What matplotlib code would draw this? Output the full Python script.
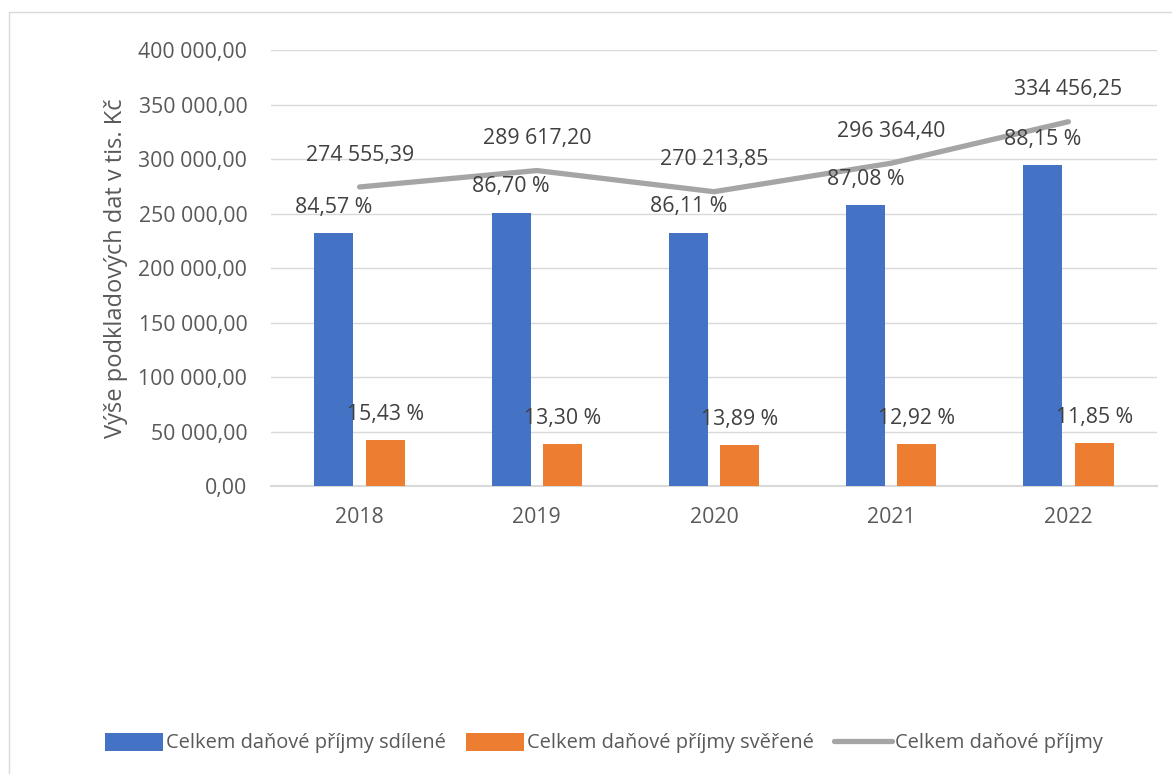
import matplotlib.pyplot as plt
import numpy as np
from matplotlib.patches import Rectangle

years = ['2018', '2019', '2020', '2021', '2022']
sdilene = [232191, 251098, 232681, 258074, 294823]
sverene = [42364, 38519, 37533, 38290, 39633]
celkem = [274555.39, 289617.20, 270213.85, 296364.40, 334456.25]
pct_sdilene = [84.57, 86.70, 86.11, 87.08, 88.15]
pct_sverene = [15.43, 13.30, 13.89, 12.92, 11.85]

plt.rcParams['font.family'] = ['Open Sans', 'DejaVu Sans']


def cz(v, dec=2):
    s = '{:,.{}f}'.format(v, dec)
    return s.replace(',', ' ').replace('.', ',')


fig = plt.figure(figsize=(11.72, 7.74), dpi=100)
ax = fig.add_axes([0.2312, 0.372, 0.7560, 0.563])

# outer chart border
fig.patches.append(Rectangle((9 / 1172, -0.05), 1.1, 1 - 12 / 774 + 0.05,
                             transform=fig.transFigure, fill=False,
                             edgecolor='#D9D9D9', linewidth=1))

x = np.arange(len(years))
w = 0.22
off = 0.145
b1 = ax.bar(x - off, sdilene, w, color='#4472C4', label='Celkem daňové příjmy sdílené', zorder=3)
b2 = ax.bar(x + off, sverene, w, color='#ED7D31', label='Celkem daňové příjmy svěřené', zorder=3)
l1, = ax.plot(x, celkem, color='#A5A5A5', linewidth=3.8, solid_capstyle='round',
              label='Celkem daňové příjmy', zorder=4)

fs = 15.3
lab = dict(ha='center', va='center', fontsize=fs, color='#404040',
           textcoords='offset points', zorder=5)
for i in range(len(years)):
    ax.annotate(cz(pct_sdilene[i]) + ' %', (x[i] - off, sdilene[i]), xytext=(0, 18.5), **lab)
    ax.annotate(cz(pct_sverene[i]) + ' %', (x[i] + off, sverene[i]), xytext=(0, 18.5), **lab)
    ax.annotate(cz(celkem[i]), (x[i], celkem[i]), xytext=(0, 23), **lab)

ax.set_xlim(-0.5, 4.5)
ax.set_ylim(0, 400000)
ax.set_yticks(np.arange(0, 400001, 50000))
ax.set_yticklabels([cz(v) for v in np.arange(0, 400001, 50000)])
ax.set_xticks(x)
ax.set_xticklabels(years)
ax.tick_params(axis='both', length=0, labelsize=fs, labelcolor='#595959')
ax.tick_params(axis='y', pad=17)
ax.tick_params(axis='x', pad=15)
ax.grid(axis='y', color='#D9D9D9', linewidth=1, zorder=0)
for s in ['top', 'right', 'left']:
    ax.spines[s].set_visible(False)
ax.spines['bottom'].set_color('#D9D9D9')
ax.spines['bottom'].set_linewidth(1.5)

ax.set_ylabel('Výše podkladových dat v tis. Kč', fontsize=17, color='#595959')
ax.yaxis.set_label_coords(-0.161, 0.5)

fig.legend([b1, b2, l1], [b1.get_label(), b2.get_label(), l1.get_label()],
           loc='center', bbox_to_anchor=(0.515, 1 - 743 / 774), ncol=3, frameon=False,
           fontsize=14.4, labelcolor='#595959', handlelength=2.9, handleheight=1.0,
           handletextpad=0.15, columnspacing=1.0)

plt.savefig('out.png', dpi=100)
